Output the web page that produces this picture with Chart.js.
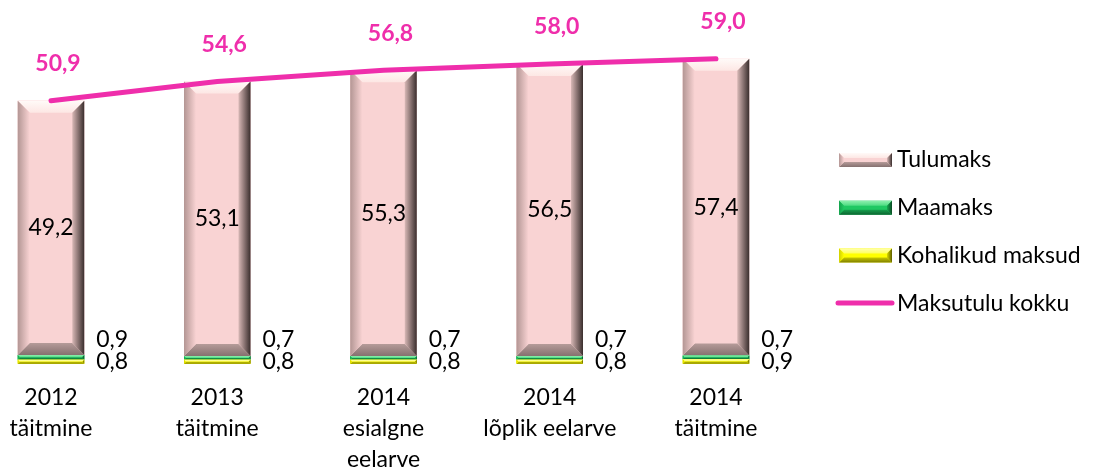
<!DOCTYPE html>
<html lang="et">
<head>
<meta charset="utf-8">
<script src="https://cdn.jsdelivr.net/npm/chart.js@4.4.1/dist/chart.umd.min.js"></script>
<style>
    body { margin: 0; background: #fff; }
</style>
</head>
<body>
<canvas id="maksud" width="1101" height="470"></canvas>
<script>
// andmed
const kategooriad = [['2012', 'täitmine'], ['2013', 'täitmine'], ['2014', 'esialgne', 'eelarve'], ['2014', 'lõplik eelarve'], ['2014', 'täitmine']]
const tulumaks = [49.2, 53.1, 55.3, 56.5, 57.4]
const maamaks = [0.9, 0.7, 0.7, 0.7, 0.7]
const kohalikudMaksud = [0.8, 0.8, 0.8, 0.8, 0.9]
const maksutuluKokku = [50.9, 54.6, 56.8, 58.0, 59.0]

const ROOSA = '#EF2EAB'
const FONT = '23px Lato'

function koma(v) {
    return v.toFixed(1).replace('.', ',')
}

function nurk(ctx, punktid, fill) {
    ctx.beginPath()
    ctx.moveTo(punktid[0][0], punktid[0][1])
    for (var i = 1; i < punktid.length; i++) ctx.lineTo(punktid[i][0], punktid[i][1])
    ctx.closePath()
    ctx.fillStyle = fill
    ctx.fill()
}

// Excel-like bevel on a rectangle
function bevelRect(ctx, x0, y0, x1, y1, c, suurus) {
    const b = Math.min(suurus, (x1 - x0) / 2, (y1 - y0) / 2)
    ctx.save()
    ctx.fillStyle = c.face
    ctx.fillRect(x0, y0, x1 - x0, y1 - y0)
    let g = ctx.createLinearGradient(0, y0, 0, y0 + b)
    g.addColorStop(0, c.top); g.addColorStop(1, c.topIn)
    nurk(ctx, [[x0, y0], [x1, y0], [x1 - b, y0 + b], [x0 + b, y0 + b]], g)
    g = ctx.createLinearGradient(0, y1 - b, 0, y1)
    g.addColorStop(0, c.bottomIn); g.addColorStop(1, c.bottom)
    nurk(ctx, [[x0, y1], [x1, y1], [x1 - b, y1 - b], [x0 + b, y1 - b]], g)
    g = ctx.createLinearGradient(x0, 0, x0 + b, 0)
    g.addColorStop(0, c.left); g.addColorStop(1, c.face)
    nurk(ctx, [[x0, y0], [x0 + b, y0 + b], [x0 + b, y1 - b], [x0, y1]], g)
    g = ctx.createLinearGradient(x1 - b, 0, x1, 0)
    g.addColorStop(0, c.rightIn); g.addColorStop(1, c.right)
    nurk(ctx, [[x1, y0], [x1 - b, y0 + b], [x1 - b, y1 - b], [x1, y1]], g)
    ctx.restore()
}

const bevelPlugin = {
    id: 'bevel',
    afterDatasetDraw(chart, args) {
        const ds = chart.data.datasets[args.index]
        if (!ds.bevel) return
        const ctx = chart.ctx
        args.meta.data.forEach(function (el) {
            bevelRect(ctx, el.x - el.width / 2, Math.min(el.y, el.base), el.x + el.width / 2, Math.max(el.y, el.base), ds.bevel, 12)
        })
    }
}

const sildidPlugin = {
    id: 'sildid',
    afterDraw(chart) {
        const ctx = chart.ctx
        ctx.save()
        ctx.textBaseline = 'middle'
        chart.data.datasets.forEach(function (ds, i) {
            const meta = chart.getDatasetMeta(i)
            meta.data.forEach(function (el, j) {
                const tekst = koma(ds.data[j])
                if (ds.silt === 'sees') {
                    ctx.font = FONT
                    ctx.fillStyle = '#000'
                    ctx.textAlign = 'center'
                    ctx.fillText(tekst, el.x, (el.y + el.base) / 2)
                } else if (ds.silt === 'paremal') {
                    ctx.font = FONT
                    ctx.fillStyle = '#000'
                    ctx.textAlign = 'left'
                    ctx.fillText(tekst, el.x + el.width / 2 + 12, (el.y + el.base) / 2 + ds.siltDy)
                } else if (ds.silt === 'ules') {
                    ctx.font = 'bold ' + FONT
                    ctx.fillStyle = ROOSA
                    ctx.textAlign = 'center'
                    ctx.fillText(tekst, el.x + 7, el.y - 37)
                }
            })
        })
        ctx.restore()
    }
}

const legendPlugin = {
    id: 'omaLegend',
    afterDraw(chart, args, opt) {
        const ctx = chart.ctx
        const jarjest = chart.data.datasets.slice().sort(function (a, b) { return a.legendJrk - b.legendJrk })
        ctx.save()
        jarjest.forEach(function (ds, i) {
            const y = opt.y + i * opt.samm
            if (ds.type === 'line') {
                ctx.strokeStyle = ds.borderColor
                ctx.lineWidth = 5
                ctx.lineCap = 'round'
                ctx.beginPath()
                ctx.moveTo(opt.x, y)
                ctx.lineTo(opt.x + 54, y)
                ctx.stroke()
            } else {
                bevelRect(ctx, opt.x + 1, y - 7, opt.x + 54, y + 7, ds.bevel, 5)
            }
            ctx.font = FONT
            ctx.fillStyle = '#000'
            ctx.textAlign = 'left'
            ctx.textBaseline = 'middle'
            ctx.fillText(ds.label, opt.x + 59, y)
        })
        ctx.restore()
    }
}

const roosaBevel = { face: '#F9D3D3', top: '#FFFAF8', topIn: '#FDE7E4', bottom: '#85706F', bottomIn: '#B59B99', left: '#B39694', rightIn: '#D8B8B6', right: '#3A2E2D' }
const rohelineBevel = { face: '#1FC862', top: '#8EF0AE', topIn: '#4CDC82', bottom: '#0C6430', bottomIn: '#16A04E', left: '#14A24C', rightIn: '#16A850', right: '#0A4A24' }
const kollaneBevel = { face: '#FFFF00', top: '#FFFFB0', topIn: '#FFFF60', bottom: '#808000', bottomIn: '#C8C800', left: '#D0D000', rightIn: '#D8D800', right: '#5E5E00' }

Chart.defaults.font.family = 'Lato'

new Chart(document.getElementById('maksud'), {
    type: 'bar',
    data: {
        labels: kategooriad,
        datasets: [{
            label: 'Kohalikud maksud',
            data: kohalikudMaksud,
            backgroundColor: '#FFFF00',
            bevel: kollaneBevel,
            silt: 'paremal',
            siltDy: 0,
            legendJrk: 3,
            clip: false,
            order: 1
        }, {
            label: 'Maamaks',
            data: maamaks,
            backgroundColor: '#1FC862',
            bevel: rohelineBevel,
            silt: 'paremal',
            siltDy: -18,
            legendJrk: 2,
            clip: false,
            order: 1
        }, {
            label: 'Tulumaks',
            data: tulumaks,
            backgroundColor: '#F9D3D3',
            bevel: roosaBevel,
            silt: 'sees',
            legendJrk: 1,
            clip: false,
            order: 1
        }, {
            type: 'line',
            label: 'Maksutulu kokku',
            data: maksutuluKokku,
            stack: 'kokku',
            borderColor: ROOSA,
            borderWidth: 5,
            borderCapStyle: 'round',
            pointRadius: 0,
            tension: 0,
            silt: 'ules',
            legendJrk: 4,
            clip: false,
            order: 0
        }]
    },
    options: {
        responsive: false,
        animation: false,
        categoryPercentage: 1,
        barPercentage: 0.4,
        layout: {
            padding: { left: 51, right: 385, top: 2, bottom: -23 }
        },
        scales: {
            x: {
                stacked: true,
                offset: false,
                grid: { display: false, drawTicks: false },
                border: { display: false },
                afterFit: function (scale) {
                    scale.paddingLeft = 0
                    scale.paddingRight = 0
                },
                ticks: {
                    color: '#000',
                    font: { size: 23, lineHeight: 1.35 },
                    padding: 18,
                    maxRotation: 0,
                    autoSkip: false
                }
            },
            y: {
                stacked: true,
                display: false,
                min: 0,
                max: 70
            }
        },
        plugins: {
            legend: { display: false },
            tooltip: { enabled: false },
            omaLegend: { x: 838, y: 160, samm: 47.7 }
        }
    },
    plugins: [bevelPlugin, sildidPlugin, legendPlugin]
})
</script>
</body>
</html>
